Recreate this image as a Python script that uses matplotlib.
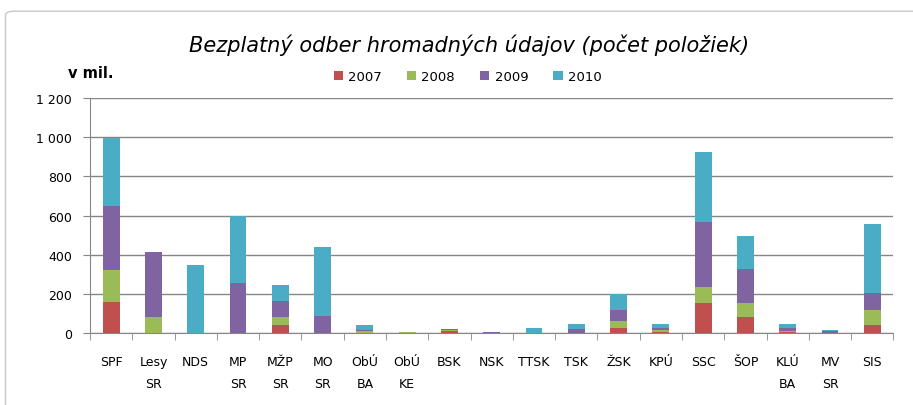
import numpy as np
import matplotlib
matplotlib.use("Agg")
import matplotlib.pyplot as plt
from matplotlib.patches import FancyBboxPatch

categories = ["SPF", "Lesy\nSR", "NDS", "MP\nSR", "MŽP\nSR", "MO\nSR", "ObÚ\nBA", "ObÚ\nKE",
              "BSK", "NSK", "TTSK", "TSK", "ŽSK", "KPÚ", "SSC", "ŠOP", "KLÚ\nBA", "MV\nSR", "SIS"]
years = ["2007", "2008", "2009", "2010"]
v2007 = [160, 0, 0, 0, 42, 0, 3, 2, 10, 0, 0, 0, 27, 8, 156, 80, 8, 0, 41]
v2008 = [160, 80, 0, 0, 38, 0, 7, 6, 5, 0, 0, 0, 33, 6, 77, 76, 5, 0, 76]
v2009 = [330, 335, 0, 255, 85, 86, 8, 0, 7, 8, 0, 19, 57, 11, 335, 169, 12, 9, 90]
v2010 = [347, 0, 350, 345, 80, 353, 23, 0, 0, 0, 27, 27, 82, 22, 355, 171, 21, 5, 349]
colors = ["#C0504D", "#9BBB59", "#8064A2", "#4BACC6"]

plt.rcParams['font.family'] = ['DejaVu Sans']

fig = plt.figure(figsize=(9.13, 4.06), dpi=100)
# chart border (runs off the right and bottom edge like the reference)
fig.patches.append(FancyBboxPatch((0.006, -0.05), 1.05, 1.02, boxstyle="round,pad=0,rounding_size=0.01",
                                  transform=fig.transFigure, fill=False, edgecolor="#c8c8c8", linewidth=1))
ax = fig.add_axes([0.0986, 0.177, 0.880, 0.579])

x = np.arange(len(categories))
bottom = np.zeros(len(categories))
for name, vals, c in zip(years, [v2007, v2008, v2009, v2010], colors):
    ax.bar(x, vals, width=0.4, bottom=bottom, color=c, label=name, zorder=3)
    bottom += np.array(vals)

ax.set_xlim(-0.5, len(categories) - 0.5)
ax.set_ylim(0, 1200)
ax.set_yticks(range(0, 1201, 200))
ax.set_yticklabels(["0", "200", "400", "600", "800", "1 000", "1 200"], fontsize=9)
ax.yaxis.grid(True, color="#868686", linewidth=1, zorder=0)
ax.set_xticks(x)
ax.set_xticklabels(categories, fontsize=9, linespacing=1.9)
ax.set_xticks(np.arange(-0.5, len(categories), 1), minor=True)
ax.tick_params(axis="x", which="major", length=0, pad=16)
ax.tick_params(axis="x", which="minor", length=5, color="#868686")
ax.tick_params(axis="y", length=5, color="#868686", pad=8)
for s in ["top", "right"]:
    ax.spines[s].set_visible(False)
ax.spines["left"].set_color("#868686")
ax.spines["bottom"].set_color("#868686")

fig.text(0.514, 0.888, "Bezplatný odber hromadných údajov (počet položiek)", ha="center", va="center",
         fontsize=15, style="italic")
fig.text(0.075, 0.82, "v mil.", ha="left", va="center", fontsize=10.5, fontweight="bold")
ax.legend(loc="center", bbox_to_anchor=(0.47, 1.09), ncol=4, frameon=False, fontsize=9.5,
          handlelength=0.7, handleheight=0.7, handletextpad=0.4, columnspacing=1.9)

fig.savefig("out.png", dpi=100)
